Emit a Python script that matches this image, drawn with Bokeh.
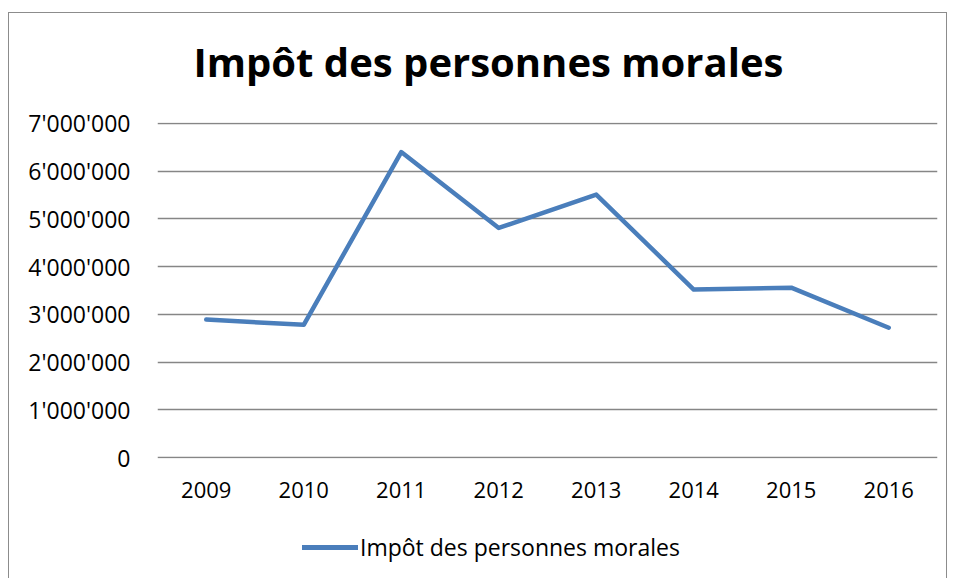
from bokeh.plotting import figure
from bokeh.layouts import column
from bokeh.models import Legend, LegendItem, FixedTicker, ColumnDataSource, FactorRange, Range1d, Label
from bokeh.embed import file_html
from bokeh.resources import INLINE

years = ["2009", "2010", "2011", "2012", "2013", "2014", "2015", "2016"]
values = [2890000, 2780000, 6400000, 4810000, 5510000, 3520000, 3560000, 2720000]
y_ticks = [0, 1000000, 2000000, 3000000, 4000000, 5000000, 6000000, 7000000]
y_tick_labels = ["0", "1'000'000", "2'000'000", "3'000'000", "4'000'000", "5'000'000", "6'000'000", "7'000'000"]
title_text = "Impôt des personnes morales"
series_name = "Impôt des personnes morales"
line_color = "#4a7ebb"


def strip(height, x_range, y_range):
    f = figure(width=938, height=height, x_range=x_range, y_range=y_range,
               x_axis_type=None, y_axis_type=None, output_backend="svg", toolbar_location=None,
               min_border=0)
    f.outline_line_color = None
    f.xgrid.grid_line_color = None
    f.ygrid.grid_line_color = None
    f.background_fill_color = "white"
    f.border_fill_color = "white"
    return f


src = ColumnDataSource(dict(x=years, y=values))

# title strip
p0 = strip(92, Range1d(0, 1), Range1d(0, 1))
p0.add_layout(Label(x=36, y=44, x_units="screen", y_units="screen", text=title_text,
                    text_font="Open Sans", text_font_size="40px", text_font_style="bold",
                    text_color="black", text_align="left", text_baseline="alphabetic"))

p = figure(width=938, height=410, x_range=FactorRange(*years, range_padding=0),
           y_range=Range1d(-20000, 7020000), output_backend="svg", toolbar_location=None,
           min_border_left=148, min_border_right=9, min_border_top=17, min_border_bottom=57)
p.outline_line_color = None
p.background_fill_color = "white"
p.border_fill_color = "white"

p.line("x", "y", source=src, line_color=line_color, line_width=4.5, line_join="round", line_cap="round")

p.xgrid.grid_line_color = None
p.ygrid.grid_line_color = "#868686"
p.ygrid.grid_line_width = 1.5
p.yaxis.ticker = FixedTicker(ticks=y_ticks)
p.yaxis.major_label_overrides = {t: l for t, l in zip(y_ticks, y_tick_labels)}
for ax in (p.xaxis[0], p.yaxis[0]):
    ax.axis_line_color = None
    ax.major_tick_line_color = None
    ax.minor_tick_line_color = None
    ax.major_tick_in = 0
    ax.major_tick_out = 0
p.yaxis.major_label_text_font = "Open Sans"
p.yaxis.major_label_text_font_size = "23px"
p.yaxis.major_label_text_color = "black"
p.yaxis.major_label_standoff = 27
p.xaxis.major_label_text_font = "Open Sans"
p.xaxis.major_label_text_font_size = "22px"
p.xaxis.major_label_text_color = "black"
p.xaxis.major_label_standoff = 23

# legend strip below the chart; its line is drawn from the same data but far outside its view
p2 = strip(63, p.x_range, Range1d(-2e7, -1e7))
r2 = p2.line("x", "y", source=src, line_color=line_color, line_width=5, line_cap="round")
legend = Legend(items=[LegendItem(label=series_name, renderers=[r2])], location=(145, 15),
                glyph_width=56, glyph_height=20, label_height=20, label_standoff=2,
                padding=0, margin=0, border_line_color=None, background_fill_alpha=0,
                label_text_font="Open Sans", label_text_font_size="23px",
                label_text_color="black")
p2.add_layout(legend, "center")

layout = column(p0, p, p2, spacing=0)
layout.styles = {"border-left": "1px solid #8c8c8c", "border-top": "1px solid #8c8c8c",
                 "border-right": "1px solid #8c8c8c", "margin-top": "12px", "margin-left": "8px",
                 "width": "939px"}

open("out.html", "w").write(file_html(layout, INLINE))
